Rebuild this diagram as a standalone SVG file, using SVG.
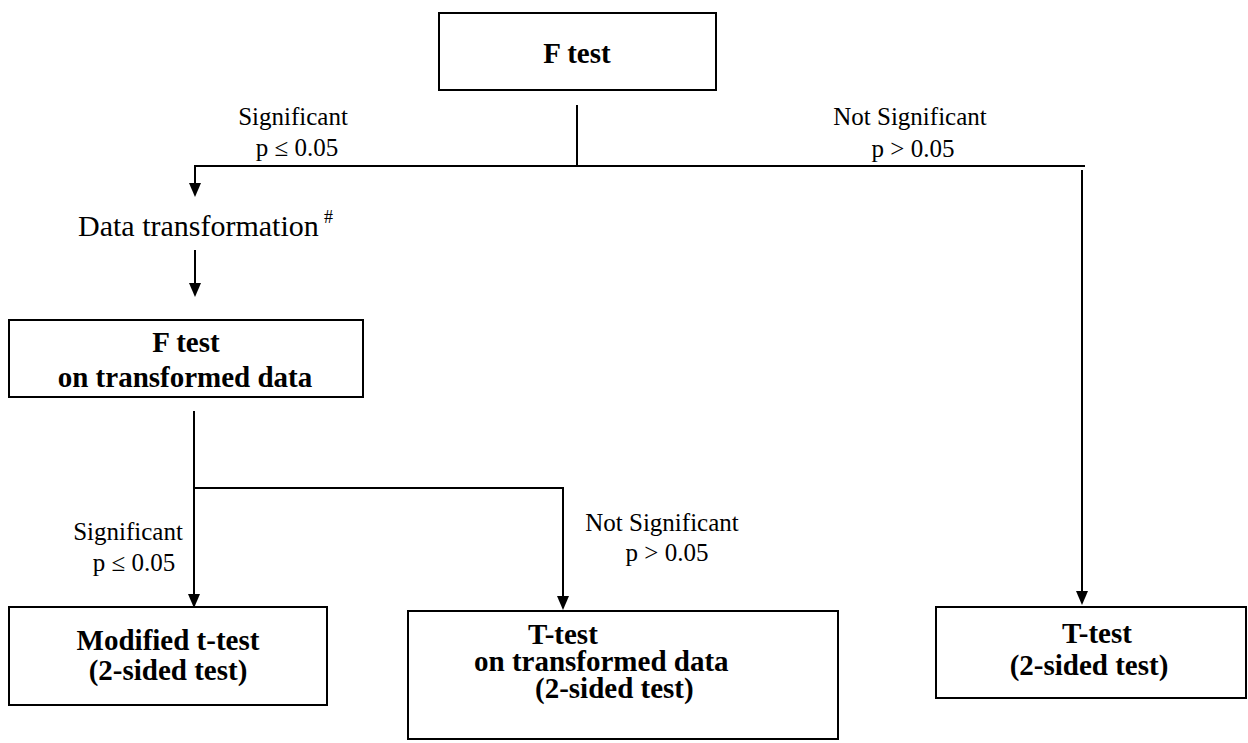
<svg xmlns="http://www.w3.org/2000/svg" width="1248" height="743" viewBox="0 0 1248 743">
<style>
  .box { fill: #fff; stroke: #000; stroke-width: 2; }
  .bold { font-family: "Liberation Serif", "Times New Roman", serif; font-weight: bold; font-size: 29px; fill: #000; }
  .lbl { font-family: "Liberation Serif", "Times New Roman", serif; font-size: 25px; fill: #000; }
  .big { font-family: "Liberation Serif", "Times New Roman", serif; font-size: 30px; fill: #000; }
  .sup { font-family: "Liberation Serif", "Times New Roman", serif; font-size: 18px; fill: #000; }
  .ln { fill: none; stroke: #000; stroke-width: 2; }
</style>
<defs>
  <marker id="ah" viewBox="0 0 14 12" refX="5" refY="6" markerWidth="14" markerHeight="12" markerUnits="userSpaceOnUse" orient="auto">
    <path d="M0,0 L14,6 L0,12 z" fill="#000"/>
  </marker>
</defs>
<rect width="1248" height="743" fill="#fff"/>

<g id="connectors">
  <line class="ln" x1="577" y1="105" x2="577" y2="166"/>
  <line class="ln" x1="194" y1="166" x2="1085" y2="166"/>
  <line class="ln" x1="195" y1="165" x2="195" y2="188" marker-end="url(#ah)"/>
  <line class="ln" x1="195" y1="250" x2="195" y2="288" marker-end="url(#ah)"/>
  <line class="ln" x1="1082" y1="170" x2="1082" y2="596" marker-end="url(#ah)"/>
  <line class="ln" x1="194" y1="411" x2="194" y2="599" marker-end="url(#ah)"/>
  <line class="ln" x1="194" y1="488" x2="564" y2="488"/>
  <line class="ln" x1="563" y1="487" x2="563" y2="601" marker-end="url(#ah)"/>
</g>

<g id="labels">
  <text class="lbl" x="293" y="125" text-anchor="middle">Significant</text>
  <text class="lbl" x="297" y="156" text-anchor="middle">p ≤ 0.05</text>
  <text class="lbl" x="910" y="125" text-anchor="middle">Not Significant</text>
  <text class="lbl" x="913" y="157" text-anchor="middle">p &gt; 0.05</text>
  <text class="lbl" x="128" y="540" text-anchor="middle">Significant</text>
  <text class="lbl" x="134" y="571" text-anchor="middle">p ≤ 0.05</text>
  <text class="lbl" x="662" y="531" text-anchor="middle">Not Significant</text>
  <text class="lbl" x="667" y="561" text-anchor="middle">p &gt; 0.05</text>
</g>

<g id="node-ftest">
  <rect class="box" x="439" y="13" width="277" height="77"/>
  <text class="bold" x="577" y="63" text-anchor="middle">F test</text>
</g>

<g id="node-transform">
  <text class="big" x="78" y="236">Data transformation</text>
  <text class="sup" x="324" y="223">#</text>
</g>

<g id="node-ftest2">
  <rect class="box" x="9" y="320" width="354" height="77"/>
  <text class="bold" x="186" y="352" text-anchor="middle">F test</text>
  <text class="bold" x="185" y="387" text-anchor="middle">on transformed data</text>
</g>

<g id="node-modified">
  <rect class="box" x="9" y="607" width="318" height="98"/>
  <text class="bold" x="168" y="650" text-anchor="middle">Modified t-test</text>
  <text class="bold" x="168" y="680" text-anchor="middle">(2-sided test)</text>
</g>

<g id="node-ttest-transformed">
  <rect class="box" x="408" y="611" width="430" height="128"/>
  <text class="bold" x="528" y="644">T-test</text>
  <text class="bold" x="474" y="671">on transformed data</text>
  <text class="bold" x="535" y="698">(2-sided test)</text>
</g>

<g id="node-ttest">
  <rect class="box" x="936" y="607" width="310" height="91"/>
  <text class="bold" x="1097" y="643" text-anchor="middle">T-test</text>
  <text class="bold" x="1089" y="675" text-anchor="middle">(2-sided test)</text>
</g>
</svg>
